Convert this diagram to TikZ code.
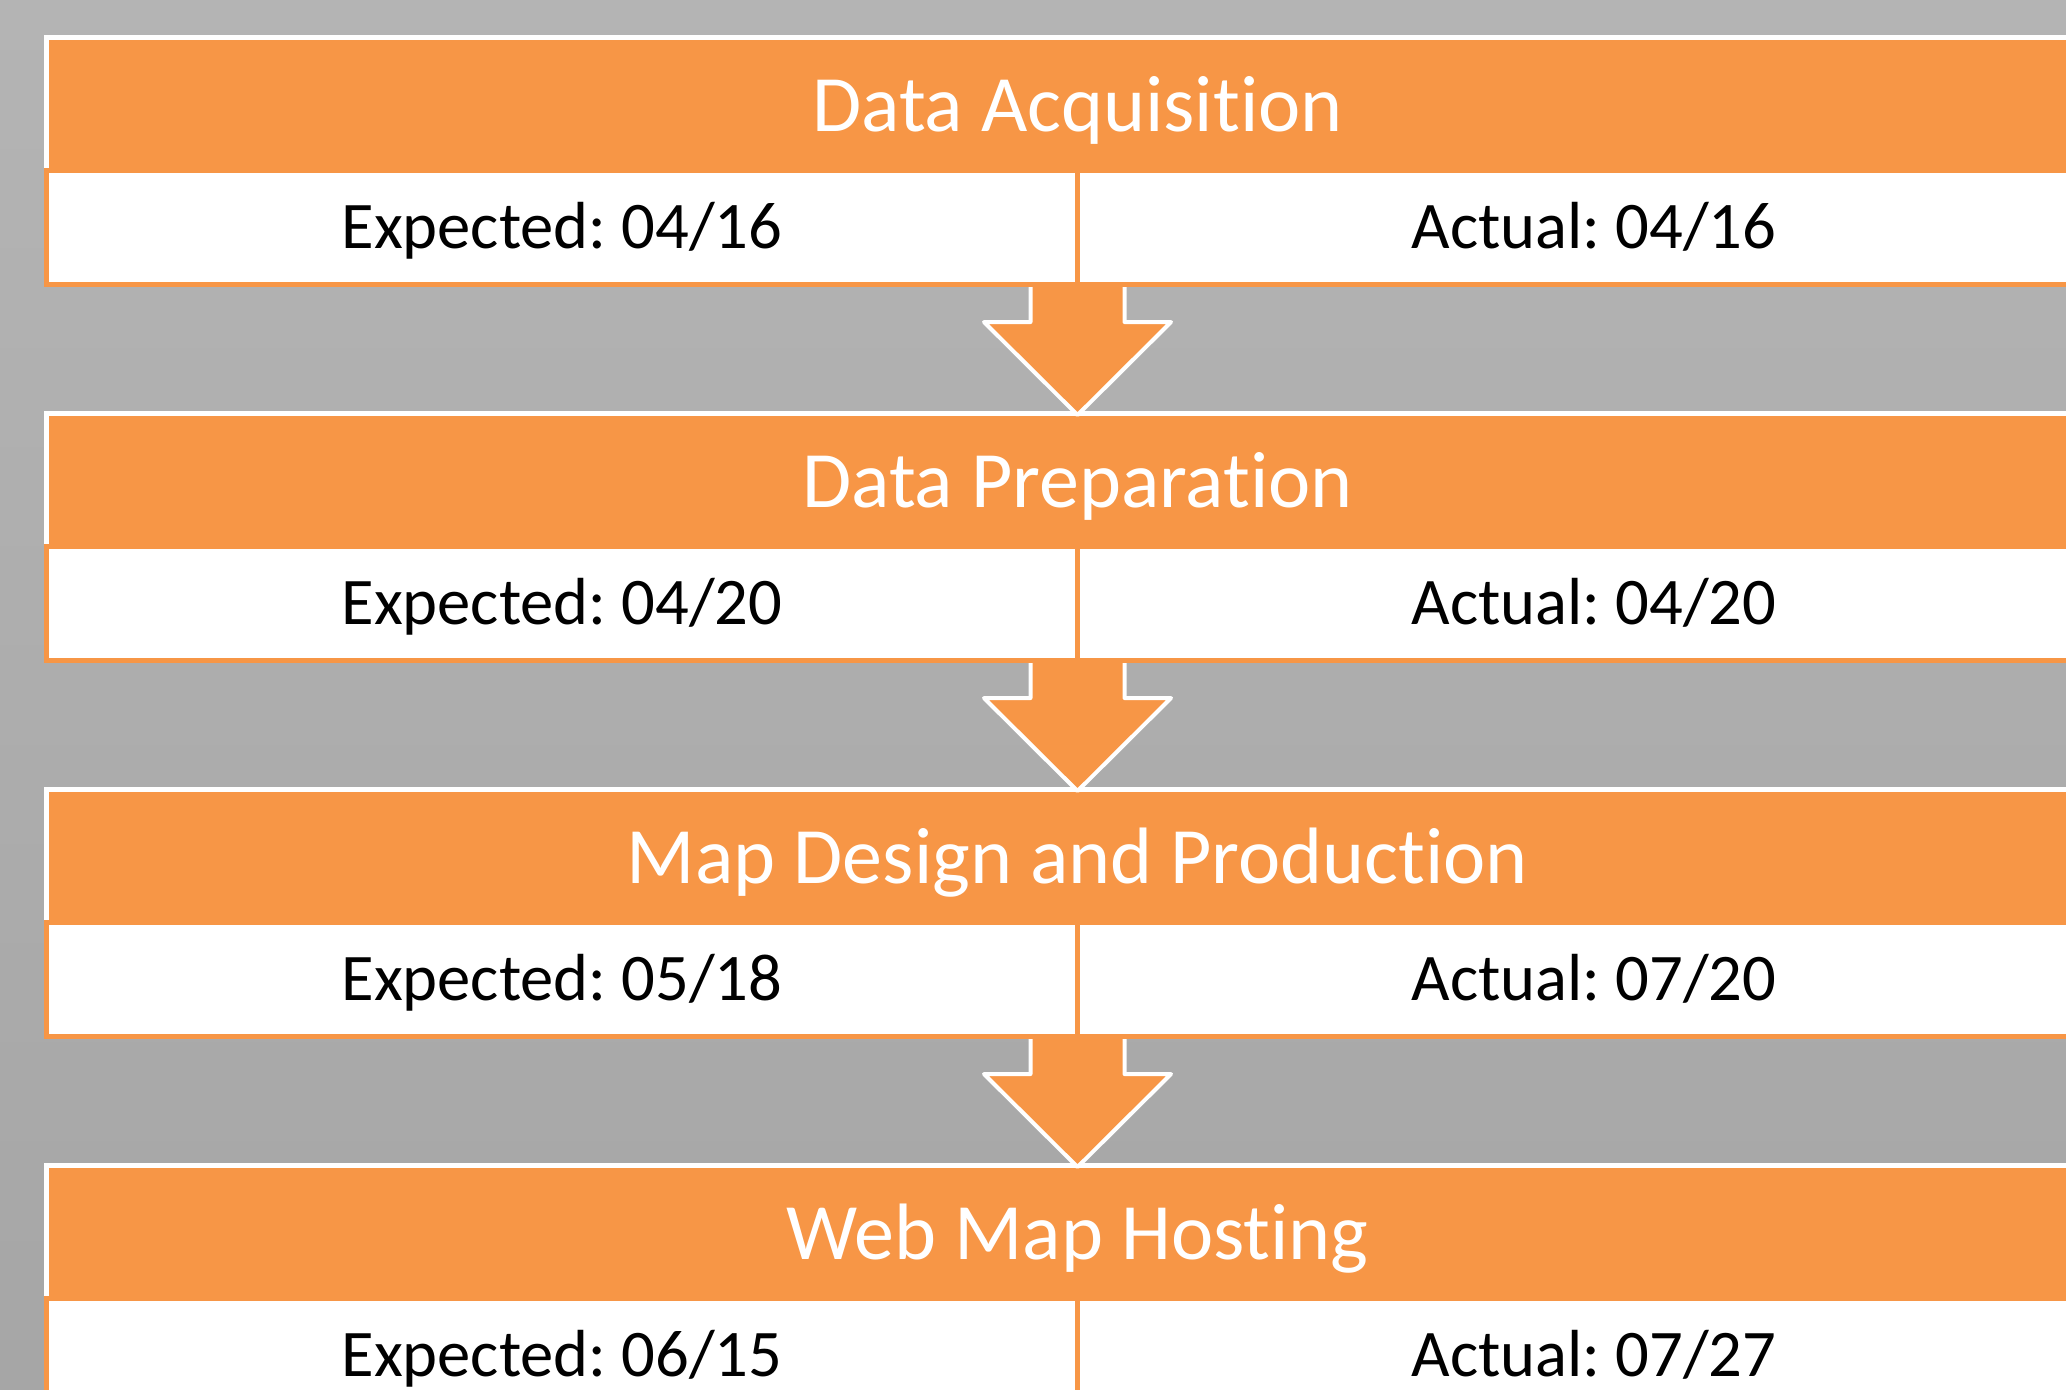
\documentclass[tikz,border=0pt]{standalone}
\usepackage{fontspec}
\setmainfont{Carlito}[Ligatures={NoCommon,NoContextual,NoRare},RawFeature={-liga;-clig;-calt;-dlig}]
\definecolor{acc}{RGB}{247,150,70}
\definecolor{bgtop}{RGB}{180,180,180}
\definecolor{bgbot}{RGB}{166,166,166}
\frenchspacing
\begin{document}
\begin{tikzpicture}[x=0.5pt,y=-0.5pt,
 hdr/.style={fill=acc,draw=white,line width=2.5pt},
 cellbox/.style={fill=white,draw=acc,line width=2.5pt},
 ttl/.style={anchor=base,inner sep=0pt,text=white,font=\fontsize{40}{48}\selectfont},
 dat/.style={anchor=base,inner sep=0pt,text=black,font=\fontsize{33.3}{40}\selectfont},
 flowfill/.style={fill=acc},
 flowedge/.style={draw=white,line width=2pt,line join=round}]
\useasboundingbox (0,0) rectangle (2066,1389);
\clip (0,0) rectangle (2066,1389);
\shade[top color=bgtop,bottom color=bgbot] (0,0) rectangle (2066,1389);
\foreach \i/\t/\e/\a in {0/Data Acquisition/04\slash16/04\slash16,
                          1/Data Preparation/04\slash20/04\slash20,
                          2/Map Design and Production/05\slash18/07\slash20,
                          3/Web Map Hosting/06\slash15/07\slash27}{
  \pgfmathsetmacro{\T}{35+376*\i}
  \draw[hdr] (46.5,{\T+2.5}) rectangle (2107.5,{\T+135.5});
  \draw[cellbox] (46.5,{\T+135.5}) rectangle (1077,{\T+249.5});
  \draw[cellbox] (1077,{\T+135.5}) rectangle (2107.5,{\T+249.5});
  \node[ttl] (h\i) at (1077.5,{\T+96}) {\t};
  \node[dat] (e\i) at (562,{\T+213}) {Expected: \e};
  \node[dat] (a\i) at (1594,{\T+213}) {Actual: \a};
}
\foreach \i in {0,1,2}{
  \pgfmathsetmacro{\T}{35+376*\i}
  \coordinate (s\i) at (1077.5,{\T+252});
  \fill[flowfill] ([xshift=-23.5pt]s\i) -- ++(0,35) -- ++(-46.5,0) -- ++(93.5,93) -- ++(93.5,-93) -- ++(-46.5,0) -- ++(0,-35) -- cycle;
  \path[flowedge] ([xshift=-23.5pt]s\i) -- ++(0,35) -- ++(-46.5,0) -- ++(93.5,93) -- ++(93.5,-93) -- ++(-46.5,0) -- ++(0,-35);
}
\end{tikzpicture}
\end{document}
